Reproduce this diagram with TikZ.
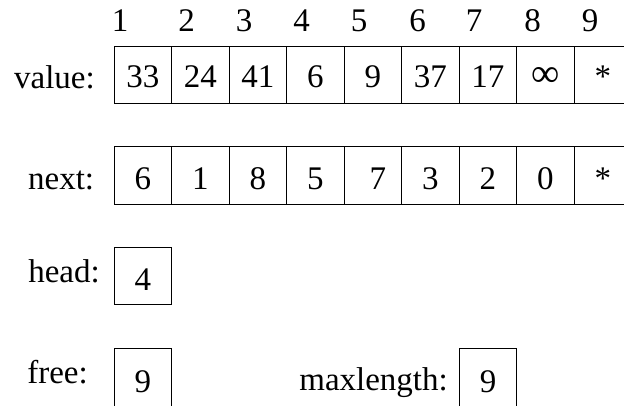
\documentclass[tikz,border=0pt]{standalone}
\usepackage{fontspec}
\setmainfont{Liberation Serif}
\begin{document}
\begin{tikzpicture}[x=1pt,y=-1pt,
  txt/.style={font=\fontsize{33}{40}\selectfont, inner sep=0pt},
  cell/.style={txt, draw, line width=1pt, minimum width=57.5pt, minimum height=57.5pt, text height=29pt, text depth=0pt},
  vcell/.style={cell, minimum height=57.3pt, text height=25.6pt},
  idx/.style={txt, anchor=base},
  lbl/.style={txt, anchor=base east}]
\clip (0,0) rectangle (624,405);
% index numbers
\foreach \x [count=\i] in {120,186.5,244,301.7,359,417.5,474,532.5,590}
  \node[idx] (i\i) at (\x,31.7) {\i};
% value row
\node[lbl] (lvalue) at (95,88) {value:};
\foreach \v [count=\i] in {33,24,41,6,9,37,17,{\raisebox{1pt}{\scalebox{1.2}{∞}}},*}
  \node[vcell] (v\i) at ({142.75+57.5*(\i-1)},74.65) {\v};
% next row
\node[lbl] (lnext) at (94.3,189) {next:};
\foreach \v [count=\i] in {6,1,8,5,{\hspace*{10pt}7},3,2,0,*}
  \node[cell] (n\i) at ({142.75+57.5*(\i-1)},175.25) {\v};
% head
\node[lbl] (lhead) at (100,282.7) {head:};
\node[cell] (head) at (142.75,276.2) {4};
% free
\node[lbl] (lfree) at (88,383) {free:};
\node[cell] (free) at (142.75,377.5) {9};
% maxlength
\node[lbl] (lmax) at (448,390) {maxlength:};
\node[cell] (maxl) at (488,377.5) {9};
\end{tikzpicture}
\end{document}
